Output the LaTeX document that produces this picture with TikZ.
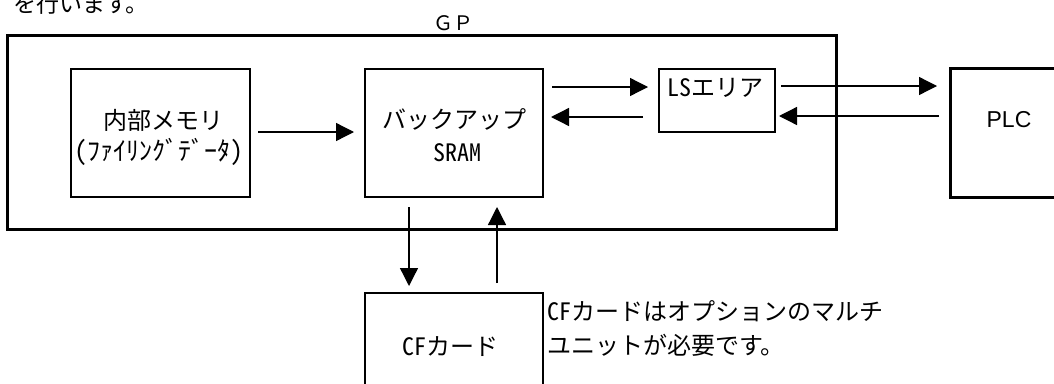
\documentclass[tikz,border=0pt]{standalone}
\usepackage{fontspec}
\setmainfont{Noto Sans CJK JP}
\newfontfamily\hwfont{Noto Sans CJK JP}[RawFeature=+hwid]
\newfontfamily\arialfont{Liberation Sans}
\usetikzlibrary{arrows.meta}
\begin{document}
\begin{tikzpicture}[x=1pt,y=-1pt,
  box/.style={draw, line width=2pt, rectangle, inner sep=0pt, outer sep=0pt},
  thickbox/.style={box, line width=3pt},
  txt/.style={inner sep=0pt, outer sep=0pt, font=\fontsize{24pt}{28pt}\selectfont\hwfont},
  arr/.style={line width=1.3pt, -{Triangle[length=18pt,width=18pt]}}]
\useasboundingbox (0,0) rectangle (1054,383);
\clip (0,0) rectangle (1054,383);
% boxes
\node[thickbox, minimum width=829pt, minimum height=194pt] (gp) at (421.5,132) {};
\node[box, minimum width=179pt, minimum height=128pt] (mem) at (160.5,133) {};
\node[box, minimum width=178pt, minimum height=128pt] (bak) at (454,133) {};
\node[box, minimum width=116pt, minimum height=63pt] (ls) at (717,100.5) {};
\node[thickbox, minimum width=130pt, minimum height=129pt] (plc) at (1015,132.5) {};
\node[box, minimum width=178pt, minimum height=120pt] (cf) at (454,353) {};
% texts
\node[txt, font=\fontsize{23pt}{27pt}\selectfont, anchor=base west] (toptxt) at (13,12) {を行います。};
\node[txt, font=\fontsize{20pt}{24pt}\selectfont] (gplabel) at (453,23) {ＧＰ};
\node[txt] (memtxt) at (163,120) {内部メモリ};
\node[txt, font=\fontsize{26pt}{30pt}\selectfont\hwfont] (memsub) at (159,152) {(ﾌｧｲﾘﾝｸﾞﾃﾞｰﾀ)};
\node[txt] (baktxt) at (454,119) {バックアップ};
\node[txt] (sram) at (457,153) {SRAM};
\node[txt] (lstxt) at (715,88) {LSエリア};
\node[txt, font=\fontsize{23pt}{27pt}\selectfont\arialfont] (plctxt) at (1009,120) {PLC};
\node[txt] (cftxt) at (450,347) {CFカード};
\node[txt, anchor=west] (note1) at (547,311) {CFカードはオプションのマルチ};
\node[txt, anchor=west] (note2) at (547,345) {ユニットが必要です。};
% arrows
\draw[arr, shorten <=8pt, shorten >=11pt] (mem.east |- 0,132) -- (bak.west |- 0,132);
\draw[arr, shorten <=9pt, shorten >=11pt] (bak.east |- 0,87) -- (ls.west |- 0,87);
\draw[arr, shorten <=16pt, shorten >=8pt] (ls.west |- 0,117) -- (bak.east |- 0,117);
\draw[arr, shorten <=6pt, shorten >=13pt] (ls.east |- 0,86) -- (plc.west |- 0,86);
\draw[arr, shorten <=11pt, shorten >=4pt] (plc.west |- 0,116) -- (ls.east |- 0,116);
\draw[arr, shorten <=10pt, shorten >=7pt] (bak.south -| 409,0) -- (cf.north -| 409,0);
\draw[arr, shorten <=10pt, shorten >=10pt] (cf.north -| 497,0) -- (bak.south -| 497,0);
\end{tikzpicture}
\end{document}
